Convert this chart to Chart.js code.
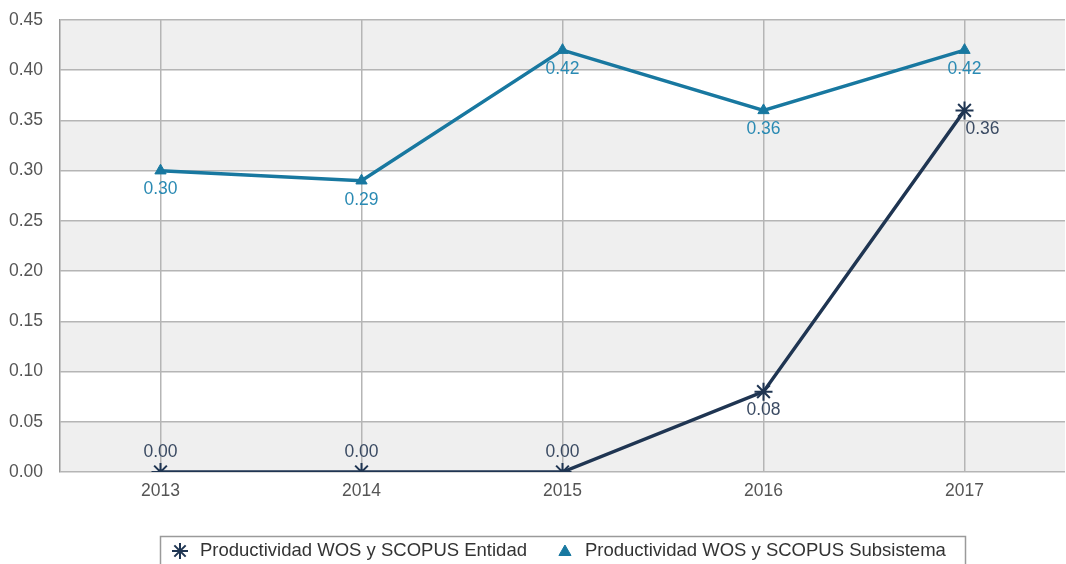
<!DOCTYPE html>
<html><head><meta charset="utf-8">
<script src="https://cdn.jsdelivr.net/npm/chart.js@4.4.0/dist/chart.umd.min.js"></script>
<style>html,body{margin:0;padding:0;background:#fff;}#wrap{width:1066px;height:564px;}</style>
</head><body><div id="wrap"><canvas id="c" width="1066" height="564"></canvas></div>
<script>
const years = ['2013','2014','2015','2016','2017'];
const entidad = [0.00, 0.00, 0.00, 0.08, 0.36];
const subsistema = [0.30, 0.29, 0.42, 0.36, 0.42];
const entidadName = 'Productividad WOS y SCOPUS Entidad';
const subsistemaName = 'Productividad WOS y SCOPUS Subsistema';

const FONT = '"Liberation Sans", Arial, sans-serif';
const C_ENT = '#1f3552', C_ENT_LBL = '#3b4b63';
const C_SUB = '#1878a0', C_SUB_LBL = '#2a8ab3';

const bands = {
  id: 'bands',
  beforeDraw(chart) {
    const {ctx, chartArea: a, scales: {y}} = chart;
    ctx.save();
    ctx.fillStyle = '#efefef';
    for (let v = 0; v < 0.45 - 1e-9; v += 0.1) {
      const t = y.getPixelForValue(v + 0.05), b = y.getPixelForValue(v);
      ctx.fillRect(a.left, t, a.right - a.left, b - t);
    }
    const t = y.getPixelForValue(0.45), b = y.getPixelForValue(0.40);
    ctx.fillRect(a.left, t, a.right - a.left, b - t);
    ctx.restore();
  }
};

function marker(ctx, style, r, x, y, color, bw) {
  ctx.save();
  ctx.strokeStyle = color; ctx.fillStyle = color; ctx.lineWidth = bw;
  if (Chart.helpers && Chart.helpers.drawPoint) {
    Chart.helpers.drawPoint(ctx, {pointStyle: style, radius: r, rotation: 0, borderWidth: bw}, x, y);
  }
  ctx.restore();
}

const labels = {
  id: 'labels',
  afterDatasetsDraw(chart) {
    const ctx = chart.ctx;
    ctx.save();
    ctx.font = '17.5px ' + FONT;
    ctx.textAlign = 'center';
    ctx.textBaseline = 'middle';
    chart.getDatasetMeta(1).data.forEach((p, i) => {
      ctx.fillStyle = C_SUB_LBL;
      ctx.fillText(subsistema[i].toFixed(2), p.x, p.y + 19);
    });
    chart.getDatasetMeta(0).data.forEach((p, i) => {
      ctx.fillStyle = C_ENT_LBL;
      const v = entidad[i];
      if (v === 0) ctx.fillText(v.toFixed(2), p.x, p.y - 20);
      else if (i === entidad.length - 1) ctx.fillText(v.toFixed(2), p.x + 18, p.y + 19);
      else ctx.fillText(v.toFixed(2), p.x, p.y + 19);
    });
    ctx.restore();
  },
  afterDraw(chart) {
    const ctx = chart.ctx;
    ctx.save();
    ctx.strokeStyle = '#9a9a9a';
    ctx.lineWidth = 1.5;
    ctx.strokeRect(160.5, 536.5, 805, 40);
    ctx.font = '18.5px ' + FONT;
    ctx.textBaseline = 'middle';
    ctx.textAlign = 'left';
    const ly = 551;
    let x = 180;
    const ds = chart.data.datasets;
    marker(ctx, 'star', 8, x, ly, ds[0].borderColor, 2);
    ctx.fillStyle = '#333';
    ctx.fillText(ds[0].label, x + 20, ly);
    x = x + 20 + ctx.measureText(ds[0].label).width + 38;
    marker(ctx, 'triangle', 7, x, ly + 1, ds[1].borderColor, 1);
    ctx.fillStyle = '#333';
    ctx.fillText(ds[1].label, x + 20, ly);
    ctx.restore();
  }
};

new Chart(document.getElementById('c'), {
  type: 'line',
  data: {
    labels: years,
    datasets: [
      {
        label: entidadName, data: entidad,
        borderColor: C_ENT, backgroundColor: C_ENT,
        borderWidth: 3.5, pointStyle: 'star', pointRadius: 9, pointBorderWidth: 2,
        pointBorderColor: C_ENT, tension: 0
      },
      {
        label: subsistemaName, data: subsistema,
        borderColor: C_SUB, backgroundColor: C_SUB,
        borderWidth: 3.5, pointStyle: 'triangle', pointRadius: 6.5, pointBorderWidth: 1,
        tension: 0
      }
    ]
  },
  options: {
    responsive: false,
    animation: false,
    events: [],
    layout: { autoPadding: false, padding: { top: 20, right: 1, left: 0, bottom: 52 } },
    plugins: {
      tooltip: { enabled: false },
      legend: { display: false }
    },
    scales: {
      x: {
        offset: true,
        grid: { offset: false, color: '#b5b5b5', lineWidth: 1.5, drawTicks: false },
        border: { display: false },
        ticks: { color: '#555', font: { size: 17.5, family: FONT }, padding: 9 },
        afterFit(s) { s.height = 40; s.paddingLeft = 0; s.paddingRight = 0; }
      },
      y: {
        min: 0, max: 0.45,
        grid: { color: '#b5b5b5', lineWidth: 1.5, drawTicks: false },
        border: { display: true, color: '#9a9a9a', width: 1.5 },
        ticks: { stepSize: 0.05, color: '#555', font: { size: 17.5, family: FONT }, padding: 17,
          callback: v => v.toFixed(2) },
        afterFit(s) { s.width = 60; s.paddingTop = 0; s.paddingBottom = 0; }
      }
    }
  },
  plugins: [bands, labels]
});
</script></body></html>
